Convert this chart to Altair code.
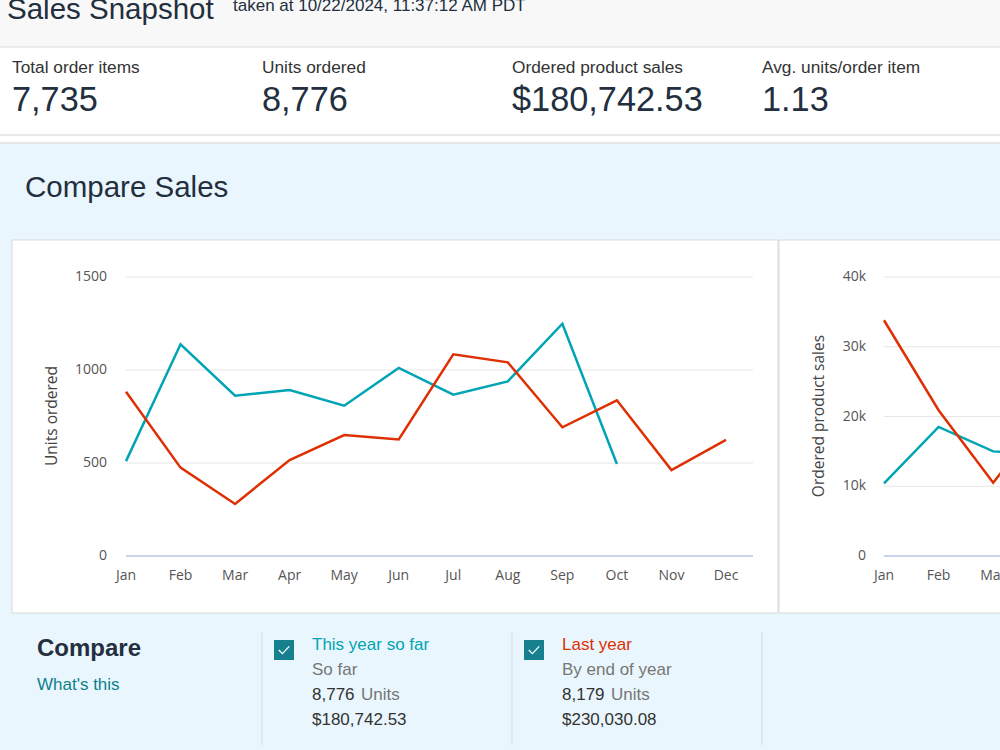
import altair as alt
import pandas as pd

# ---------------- data ----------------
months = ["Jan", "Feb", "Mar", "Apr", "May", "Jun", "Jul", "Aug", "Sep", "Oct", "Nov", "Dec"]
series = ["This year so far", "Last year"]
series_colors = ["#00a4b4", "#de3004"]

units_this_year = [510, 1138, 862, 892, 808, 1011, 867, 939, 1249, 495]
units_last_year = [883, 475, 280, 516, 650, 627, 1084, 1041, 692, 837, 462, 624]
sales_this_year = [10400, 18500, 15000, 14600]
sales_last_year = [33800, 20900, 10500, 20500]

units_ticks = [0, 500, 1000, 1500]
units_tick_labels = ["0", "500", "1000", "1500"]
sales_ticks = [0, 10000, 20000, 30000, 40000]
sales_tick_labels = ["0", "10k", "20k", "30k", "40k"]

kpi_labels = ["Total order items", "Units ordered", "Ordered product sales", "Avg. units/order item"]
kpi_values = ["7,735", "8,776", "$180,742.53", "1.13"]

legend_sub = ["So far", "By end of year"]
legend_units = ["8,776", "8,179"]
legend_sales = ["$180,742.53", "$230,030.08"]

# ---------------- helpers ----------------
SANS = "Liberation Sans"
AX = "Open Sans"
DARK = "#232f3e"
TICK = "#555555"
one = pd.DataFrame({"a": [0]})


def rect(x1, y1, x2, y2, fill, stroke=None, sw=1):
    kw = dict(fill=fill)
    if stroke:
        kw.update(stroke=stroke, strokeWidth=sw)
    return alt.Chart(one).mark_rect(**kw).encode(
        x=alt.value(x1), x2=alt.value(x2), y=alt.value(y1), y2=alt.value(y2))


def hline(x1, x2, y, color, w=1):
    return alt.Chart(one).mark_rule(color=color, strokeWidth=w).encode(
        x=alt.value(x1), x2=alt.value(x2), y=alt.value(y))


def vline(x, y1, y2, color, w=1):
    return alt.Chart(one).mark_rule(color=color, strokeWidth=w).encode(
        x=alt.value(x), y=alt.value(y1), y2=alt.value(y2))


def txt(x, y, s, size, color, weight="normal", align="left", baseline="alphabetic", font=SANS, angle=None):
    kw = dict(fontSize=size, color=color, fontWeight=weight, align=align, baseline=baseline, font=font)
    if angle is not None:
        kw["angle"] = angle
    return alt.Chart(one).mark_text(**kw).encode(x=alt.value(x), y=alt.value(y), text=alt.value(s))


def check(x, y):
    return alt.Chart(one).mark_point(
        shape="M-1,0 L-0.3,0.7 L1,-0.7", filled=False, stroke="white", strokeWidth=1.3, size=110, opacity=1
    ).encode(x=alt.value(x), y=alt.value(y))


layers = []

# page background pieces
layers += [
    rect(0, 0, 1000, 47, "#f8f8f8"),
    hline(0, 1000, 47, "#d9d9d9"),
    hline(0, 1000, 135, "#d5d5d5"),
    rect(0, 143, 1000, 750, "#eaf6fd"),
    hline(0, 1000, 143, "#d5d5d5"),
    txt(7, 19, "Sales Snapshot", 29.5, DARK),
    txt(233, 11, "taken at 10/22/2024, 11:37:12 AM PDT", 17, DARK),
]
for i, (lab, val) in enumerate(zip(kpi_labels, kpi_values)):
    x0 = 12 + 250 * i
    layers += [txt(x0, 73, lab, 17.3, "#333333"), txt(x0, 111, val, 34.3, DARK)]

layers.append(txt(25, 197, "Compare Sales", 29.5, DARK))

# cards
layers += [
    rect(12, 240, 778, 613, "white", "#d6d9dc"),
    rect(779, 240, 1010, 613, "white", "#d6d9dc"),
]

# ---------------- left chart: units ordered ----------------
ux = alt.Scale(domain=[0, 11], range=[126, 726], nice=False, zero=False)
uy = alt.Scale(domain=[0, 1500], range=[556, 277], nice=False, zero=False)

grid_u = pd.DataFrame({"v": units_ticks, "lab": units_tick_labels})
layers.append(alt.Chart(grid_u[grid_u.v > 0]).mark_rule(color="#e6e6e6", strokeWidth=1).encode(
    x=alt.value(126), x2=alt.value(753), y=alt.Y("v:Q", scale=uy, axis=None)))
layers.append(alt.Chart(grid_u[grid_u.v == 0]).mark_rule(color="#ccd4ec", strokeWidth=2).encode(
    x=alt.value(126), x2=alt.value(753), y=alt.Y("v:Q", scale=uy, axis=None)))
layers.append(alt.Chart(grid_u).mark_text(align="right", baseline="middle", font=AX, fontSize=14, color=TICK).encode(
    x=alt.value(107), y=alt.Y("v:Q", scale=uy, axis=None), text="lab:N"))
mdf = pd.DataFrame({"i": list(range(12)), "m": months})
layers.append(alt.Chart(mdf).mark_text(align="center", baseline="middle", font=AX, fontSize=14, color=TICK).encode(
    x=alt.X("i:Q", scale=ux, axis=None), y=alt.value(576), text="m:N"))
layers.append(txt(52, 416, "Units ordered", 15.5, "#444444", align="center", baseline="middle", font=AX, angle=270))

units_df = pd.DataFrame(
    [{"i": i, "v": v, "s": series[0]} for i, v in enumerate(units_this_year)]
    + [{"i": i, "v": v, "s": series[1]} for i, v in enumerate(units_last_year)]
)
layers.append(alt.Chart(units_df).mark_line(strokeWidth=2.5).encode(
    x=alt.X("i:Q", scale=ux, axis=None),
    y=alt.Y("v:Q", scale=uy, axis=None),
    color=alt.Color("s:N", scale=alt.Scale(domain=series, range=series_colors), legend=None),
    order="i:Q"))

# ---------------- right chart: product sales ----------------
sx = alt.Scale(domain=[0, 11], range=[884, 884 + 11 * 54.6], nice=False, zero=False)
sy = alt.Scale(domain=[0, 40000], range=[556, 277], nice=False, zero=False)

grid_s = pd.DataFrame({"v": sales_ticks, "lab": sales_tick_labels})
layers.append(alt.Chart(grid_s[grid_s.v > 0]).mark_rule(color="#e6e6e6", strokeWidth=1).encode(
    x=alt.value(884), x2=alt.value(1010), y=alt.Y("v:Q", scale=sy, axis=None)))
layers.append(alt.Chart(grid_s[grid_s.v == 0]).mark_rule(color="#ccd4ec", strokeWidth=2).encode(
    x=alt.value(884), x2=alt.value(1010), y=alt.Y("v:Q", scale=sy, axis=None)))
layers.append(alt.Chart(grid_s).mark_text(align="right", baseline="middle", font=AX, fontSize=14, color=TICK).encode(
    x=alt.value(866), y=alt.Y("v:Q", scale=sy, axis=None), text="lab:N"))
layers.append(alt.Chart(mdf).mark_text(align="center", baseline="middle", font=AX, fontSize=14, color=TICK).encode(
    x=alt.X("i:Q", scale=sx, axis=None), y=alt.value(576), text="m:N"))
layers.append(txt(819, 416, "Ordered product sales", 15.5, "#444444", align="center", baseline="middle", font=AX, angle=270))

sales_df = pd.DataFrame(
    [{"i": i, "v": v, "s": series[0]} for i, v in enumerate(sales_this_year)]
    + [{"i": i, "v": v, "s": series[1]} for i, v in enumerate(sales_last_year)]
)
layers.append(alt.Chart(sales_df).mark_line(strokeWidth=2.5).encode(
    x=alt.X("i:Q", scale=sx, axis=None),
    y=alt.Y("v:Q", scale=sy, axis=None),
    color=alt.Color("s:N", scale=alt.Scale(domain=series, range=series_colors), legend=None),
    order="i:Q"))

# ---------------- compare legend ----------------
layers += [
    txt(37, 656, "Compare", 24, DARK, weight="bold"),
    txt(37, 690, "What's this", 17, "#0e7f8c"),
    vline(262, 632, 745, "#d5dbe0"),
    vline(512, 632, 745, "#d5dbe0"),
    vline(762, 632, 745, "#d5dbe0"),
]
for k in range(2):
    bx = 274 + 250 * k
    tx = 312 + 250 * k
    layers += [
        rect(bx, 640, bx + 20, 660, "#16808f"),
        check(bx + 10, 650),
        txt(tx, 650, series[k], 17, series_colors[k]),
        txt(tx, 675, legend_sub[k], 17, "#767676"),
        txt(tx, 700, legend_units[k], 17, "#333333"),
        txt(tx + 49, 700, "Units", 17, "#767676"),
        txt(tx, 725, legend_sales[k], 17, "#333333"),
    ]

chart = alt.layer(*layers).resolve_scale(x="independent", y="independent", color="independent").properties(
    width=1000, height=750, padding=0, autosize=alt.AutoSizeParams(type="none"), background="white"
).configure_view(stroke=None)

chart.save("out.html", embed_options={"renderer": "svg", "actions": False})
